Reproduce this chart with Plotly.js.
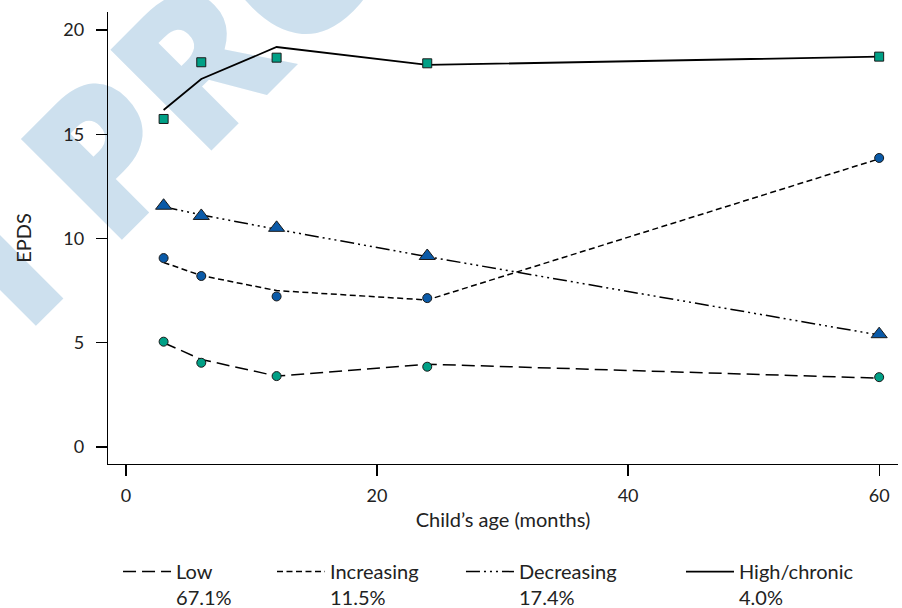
<!DOCTYPE html>
<html><head><meta charset="utf-8">
<script src="https://cdn.plot.ly/plotly-3.0.1.min.js"></script>
<style>html,body{margin:0;padding:0;background:#fff}</style>
</head><body>
<div id="chart" style="width:902px;height:608px"></div>
<script>
// ---- data ----
const months = [3, 6, 12, 24, 60];
const legendLabels = ['Low<br>67.1%', 'Increasing<br>11.5%', 'Decreasing<br>17.4%', 'High/chronic<br>4.0%'];
const lowObserved  = [5.05, 4.04, 3.40, 3.85, 3.35];
const lowFitted    = [5.00, 4.20, 3.40, 3.97, 3.30];
const incObserved  = [9.06, 8.20, 7.22, 7.14, 13.86];
const incFitted    = [8.85, 8.22, 7.50, 7.05, 13.82];
const decObserved  = [11.57, 11.08, 10.51, 9.16, 5.41];
const decFitted    = [11.52, 11.13, 10.44, 9.13, 5.37];
const highObserved = [15.73, 18.45, 18.67, 18.40, 18.72];
const highFitted   = [16.16, 17.65, 19.18, 18.32, 18.72];
const xTicks = [0, 20, 40, 60];
const yTicks = [0, 5, 10, 15, 20];
const watermarkText = 'I PROOF';

// ---- styles ----
const TEAL = '#00a086', BLUE = '#0a5aa8', WM = '#cde0ee';
const FONT = 'Lato, "Open Sans", sans-serif';

function fitLine(y, name, dash, width, legendId) {
  return {x: months, y: y, name: name, type: 'scatter', mode: 'lines',
    line: {color: '#000', width: width, dash: dash}, legend: legendId, hoverinfo: 'skip'};
}
function obs(y, symbol, color, size) {
  return {x: months, y: y, type: 'scatter', mode: 'markers', showlegend: false,
    marker: {symbol: symbol, color: color, size: size, line: {color: '#1a1a1a', width: 1}}, hoverinfo: 'skip'};
}

const data = [
  fitLine(lowFitted, legendLabels[0], '13px,6px', 1.5, 'legend'),
  fitLine(incFitted, legendLabels[1], '6px,3.5px', 1.5, 'legend2'),
  fitLine(decFitted, legendLabels[2], '14px,4px,2px,4px,2px,4px,2px,4px', 1.5, 'legend3'),
  fitLine(highFitted, legendLabels[3], 'solid', 1.8, 'legend4'),
  obs(lowObserved, 'circle', TEAL, 9),
  obs(incObserved, 'circle', BLUE, 9),
  obs(decObserved, 'triangle-up', BLUE, 14),
  obs(highObserved, 'square', TEAL, 9)
];

function leg(x) {
  return {x: x, y: 0.092, xref: 'paper', yref: 'container', xanchor: 'left', yanchor: 'top',
    orientation: 'h', valign: 'top', itemwidth: 48, bgcolor: 'rgba(0,0,0,0)',
    font: {family: FONT, size: 20, color: '#222'}};
}

const layout = {
  width: 902, height: 608,
  margin: {l: 108, r: 4, t: 12, b: 144},
  paper_bgcolor: '#fff', plot_bgcolor: 'rgba(0,0,0,0)',
  font: {family: FONT, size: 18, color: '#222'},
  xaxis: {range: [-1.43, 61.5], tickvals: xTicks, ticks: 'outside', ticklen: 11, tickwidth: 1.3,
    tickcolor: '#000', showline: true, linecolor: '#000', linewidth: 1.3, showgrid: false, zeroline: false,
    ticklabelstandoff: 4, automargin: false,
    title: {text: 'Child\u2019s age (months)', standoff: 8, font: {family: FONT, size: 20}}},
  yaxis: {range: [-0.815, 20.86], tickvals: yTicks, ticks: 'outside', ticklen: 11, tickwidth: 1.3,
    tickcolor: '#000', showline: true, linecolor: '#000', linewidth: 1.3, showgrid: false, zeroline: false,
    ticklabelstandoff: 8, automargin: false,
    title: {text: 'EPDS', standoff: 26, font: {family: FONT, size: 20}}},
  legend: leg(0.0127), legend2: leg(0.2076), legend3: leg(0.4468), legend4: leg(0.7253),
  annotations: [{text: watermarkText, xref: 'paper', yref: 'paper',
    x: (257 - 108) / 790, y: (464 - (-4)) / 452,
    xanchor: 'center', yanchor: 'middle', textangle: -45, showarrow: false,
    font: {family: '"Open Sans", sans-serif', size: 200, color: WM, weight: 800}}]
};

const gd = document.getElementById('chart');
Plotly.newPlot(gd, data, layout, {staticPlot: true, displayModeBar: false}).then(function () {
  const ann = gd.querySelector('.infolayer .annotation');
  const paper = gd.querySelector('.main-svg');
  const cart = paper && paper.querySelector('.cartesianlayer');
  if (ann && cart) paper.insertBefore(ann, cart);
});
</script>
</body></html>
